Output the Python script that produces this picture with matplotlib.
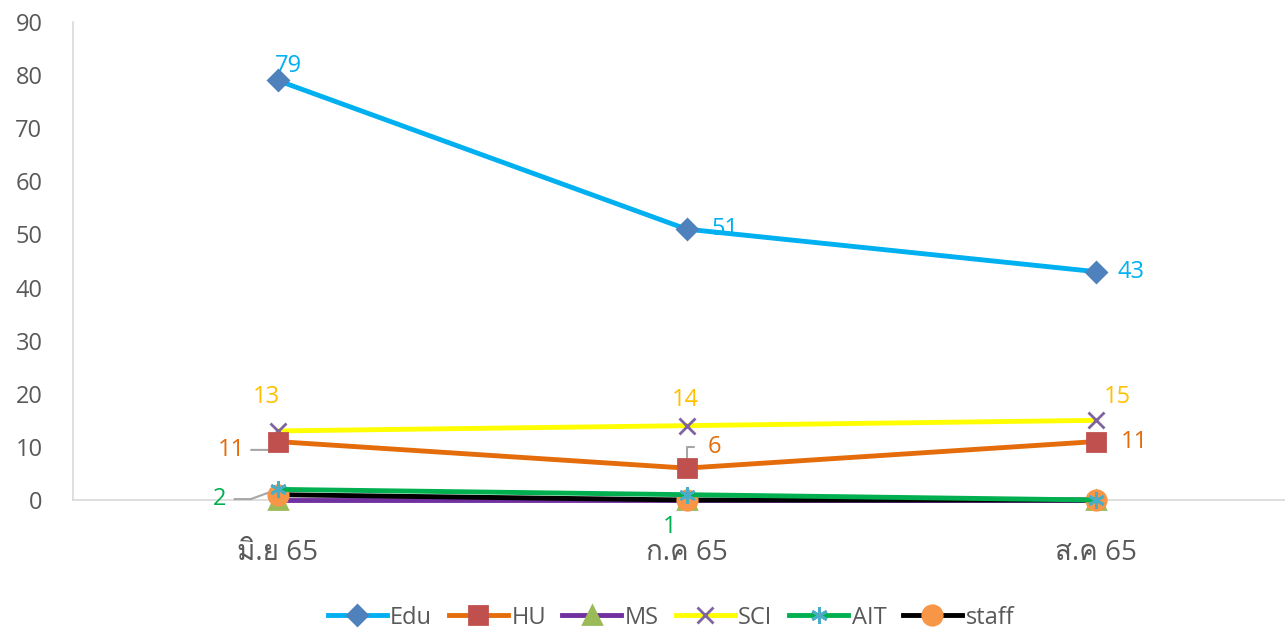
import matplotlib
matplotlib.use("Agg")
import matplotlib.pyplot as plt
from matplotlib import font_manager
from matplotlib.ft2font import FT2Font

# Data
months = ["มิ.ย 65", "ก.ค 65", "ส.ค 65"]
edu = [79, 51, 43]
hu = [11, 6, 11]
ms = [0, 0, 0]
sci = [13, 14, 15]
ait = [2, 1, 0]
staff = [1, 0, 0]

# find a font that can draw Thai
thai_font = None
for f in font_manager.fontManager.ttflist:
    try:
        if 0x0E21 in FT2Font(f.fname).get_charmap():
            thai_font = f.name
            break
    except Exception:
        pass

fams = ["Open Sans", "DejaVu Sans"]
if thai_font:
    fams = ["Open Sans", thai_font, "DejaVu Sans"]
plt.rcParams["font.family"] = fams

grey = "#595959"
x = list(range(len(months)))

fig = plt.figure(figsize=(12.85, 6.32), dpi=100)
ax = fig.add_axes([73 / 1285, 132 / 632, 1227 / 1285, 478 / 632])

series = [
    ("Edu", edu, "#00B0F0", "D", "#4F81BD", 10),
    ("HU", hu, "#E46C0A", "s", "#C0504D", 13),
    ("MS", ms, "#7030A0", "^", "#9BBB59", 13),
    ("SCI", sci, "#FFFF00", "x", "#8064A2", 12),
    ("AIT", ait, "#00B050", (6, 2, 0), "#4BACC6", 12),
    ("staff", staff, "#000000", "o", "#F79646", 14),
]
order = {"Edu": 6, "HU": 5, "MS": 3, "SCI": 4, "AIT": 4.5, "staff": 3.5}
for name, vals, lc, mk, mc, ms_ in series:
    ax.plot(x, vals, color=lc, lw=3.5, marker=mk, markersize=ms_,
            markerfacecolor=mc, markeredgecolor=mc, markeredgewidth=2,
            label=name, zorder=order[name], clip_on=False)

ax.set_xlim(-0.5, 2.5)
ax.set_ylim(0, 90)
ax.set_yticks(range(0, 91, 10))
ax.set_xticks(x)
ax.set_xticklabels(months)
ax.tick_params(axis="both", length=0, labelsize=17, colors=grey)
ax.tick_params(axis="x", labelsize=20, pad=28)
ax.tick_params(axis="y", pad=22)
for s in ["top", "right"]:
    ax.spines[s].set_visible(False)
ax.spines["left"].set_color("#D9D9D9")
ax.spines["bottom"].set_color("#D9D9D9")
ax.spines["left"].set_linewidth(1.2)
ax.spines["bottom"].set_linewidth(1.2)

fs = 17
c_edu, c_hu, c_sci, c_ait = "#00B0F0", "#E46C0A", "#FFC000", "#00B050"
# Edu labels
ax.annotate(str(edu[0]), (0, edu[0]), xytext=(-2, 2), textcoords="offset points", color=c_edu, fontsize=fs, ha="left", va="bottom")
ax.annotate(str(edu[1]), (1, edu[1]), xytext=(18, 0), textcoords="offset points", color=c_edu, fontsize=fs, ha="left", va="center")
ax.annotate(str(edu[2]), (2, edu[2]), xytext=(16, 0), textcoords="offset points", color=c_edu, fontsize=fs, ha="left", va="center")
# SCI labels
ax.annotate(str(sci[0]), (0, sci[0]), xytext=(-8, 16), textcoords="offset points", color=c_sci, fontsize=fs, ha="center", va="bottom")
ax.annotate(str(sci[1]), (1, sci[1]), xytext=(-1, 10), textcoords="offset points", color=c_sci, fontsize=fs, ha="center", va="bottom")
ax.annotate(str(sci[2]), (2, sci[2]), xytext=(16, 8), textcoords="offset points", color=c_sci, fontsize=fs, ha="center", va="bottom")
# HU labels
ax.annotate(str(hu[0]), (0, hu[0]), xytext=(-23, -6), textcoords="offset points", color=c_hu, fontsize=fs, ha="right", va="center",
            arrowprops=dict(arrowstyle="-", color="#A6A6A6", lw=1.5, connectionstyle="angle,angleA=0,angleB=45,rad=0",
                            shrinkA=2, shrinkB=0))
ax.annotate(str(hu[1]), (1, hu[1]), xytext=(20, 15), textcoords="offset points", color=c_hu, fontsize=fs, ha="center", va="center",
            arrowprops=dict(arrowstyle="-", color="#A6A6A6", lw=1.5, connectionstyle="angle,angleA=0,angleB=90,rad=0",
                            shrinkA=8, shrinkB=0))
ax.annotate(str(hu[2]), (2, hu[2]), xytext=(28, 0), textcoords="offset points", color=c_hu, fontsize=fs, ha="center", va="center")
# AIT labels
ax.annotate(str(ait[0]), (0, ait[0]), xytext=(-37, -7), textcoords="offset points", color=c_ait, fontsize=fs, ha="right", va="center",
            arrowprops=dict(arrowstyle="-", color="#A6A6A6", lw=1.5, connectionstyle="angle,angleA=0,angleB=20,rad=0",
                            shrinkA=4, shrinkB=0))
ax.annotate(str(ait[1]), (1, ait[1]), xytext=(-12, -23), textcoords="offset points", color=c_ait, fontsize=fs, ha="center", va="center")

leg = fig.legend(loc="lower center", bbox_to_anchor=(0.522, -0.03), ncol=6, frameon=False,
                 fontsize=17, handlelength=2.5, columnspacing=0.7, handletextpad=0.15, labelcolor=grey)

fig.savefig("out.png", dpi=100)
